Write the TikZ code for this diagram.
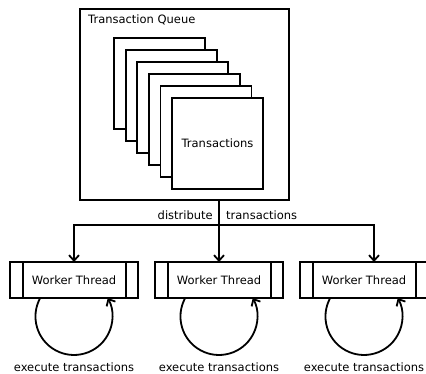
\documentclass[tikz,border=0pt]{standalone}
\usepackage{fontspec}
\setmainfont{DejaVu Sans}
\usetikzlibrary{arrows.meta,calc}

\tikzset{
  base/.style={line width=1.8pt},
  frame/.style={base, draw, rectangle, inner sep=0pt, outer sep=0pt},
  page/.style={frame, fill=white, minimum width=91pt, minimum height=91pt},
  worker/.style={frame, fill=white, minimum width=128pt, minimum height=36pt},
  label/.style={inner sep=0pt},
  tip/.style={-{Straight Barb[length=5.5pt,width=10pt,line width=1.8pt]}},
}

\begin{document}
\begin{tikzpicture}[x=1pt, y=-1pt, font=\fontsize{11.5}{13}\selectfont]
  \clip (0,0) rectangle (426,374);
  \fill[white] (0,0) rectangle (426,374);

  % transaction queue with its stack of transactions
  \node[frame, minimum width=209pt, minimum height=191pt] (queue) at (184.5,104.5) {};
  \node[label, anchor=base west] (qtitle) at (88,24) {Transaction Queue};
  \foreach \i in {0,...,4} {
    \node[page] (p\i) at ({159.5+11.6*\i},{83.5+12*\i}) {};
  }
  \node[page] (p5) at (217.5,143.5) {Transactions};

  % worker threads
  \foreach \n/\x in {1/74, 2/219, 3/364} {
    \node[worker] (w\n) at (\x,280) {Worker Thread};
    \draw[base] ([xshift=13pt]w\n.north west) -- ([xshift=13pt]w\n.south west);
    \draw[base] ([xshift=-12pt]w\n.north east) -- ([xshift=-12pt]w\n.south east);
    % execute loop below each worker
    \draw[base, tip] ([xshift=-33.8pt]w\n.south)
      arc[start angle=208.7, end angle=-28.7, radius=38.5];
    \node[label, anchor=base] (e\n) at (\x,371) {execute transactions};
  }

  % distribution of transactions to the workers
  \coordinate (split) at (219,225);
  \coordinate (w3in) at ([xshift=10pt]w3.north);
  \draw[base, tip] (queue.south -| w2.north) -- (w2.north);
  \draw[base, tip] (split) -| (w1.north);
  \draw[base, tip] (split) -| (w3in);
  \node[label, anchor=base east] (dist) at (213,220) {distribute};
  \node[label, anchor=base west] (trans) at (226,220) {transactions};
\end{tikzpicture}
\end{document}
